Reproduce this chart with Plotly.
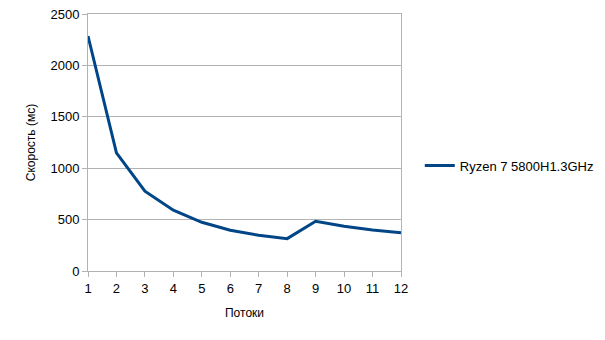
import plotly.graph_objects as go

threads = [1, 2, 3, 4, 5, 6, 7, 8, 9, 10, 11, 12]
times_ms = [2286, 1150, 776, 591, 474, 396, 347, 315, 484, 435, 399, 373]
series_name = "Ryzen 7 5800H1.3GHz"
x_title = "Потоки"
y_title = "Скорость (мс)"

fig = go.Figure()
fig.add_trace(go.Scatter(x=threads, y=times_ms, mode="lines", name=series_name,
                         line=dict(color="#004586", width=3)))

grid = "#b3b3b3"
fig.update_layout(
    width=605, height=340,
    margin=dict(l=88, r=204, t=14, b=69, autoexpand=False),
    paper_bgcolor="white", plot_bgcolor="white",
    font=dict(family="Liberation Sans", size=12, color="black"),
    showlegend=True,
    legend=dict(x=1.06, y=0.41, xanchor="left", yanchor="middle",
                font=dict(size=13), itemwidth=30),
    xaxis=dict(range=[1, 12], tickvals=threads, showgrid=False, zeroline=False,
               showline=True, linecolor=grid, linewidth=1, mirror=True,
               ticks="outside", ticklen=5, tickcolor=grid, tickfont=dict(size=13),
               title=dict(text=x_title, standoff=14, font=dict(size=12))),
    yaxis=dict(range=[0, 2500], dtick=500, showgrid=True, gridcolor=grid, gridwidth=1,
               zeroline=False, showline=True, linecolor=grid, linewidth=1, mirror=True,
               ticks="outside", ticklen=5, tickcolor=grid, tickfont=dict(size=13),
               title=dict(text=y_title, standoff=12, font=dict(size=12))),
)
fig.write_html("out.html")
